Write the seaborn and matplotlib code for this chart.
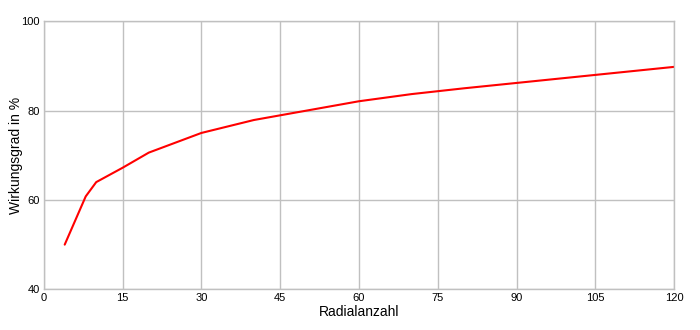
import matplotlib
matplotlib.use("Agg")
import matplotlib.pyplot as plt
import seaborn as sns
import pandas as pd

radialanzahl = [4, 8, 10, 15, 20, 30, 40, 50, 60, 70, 80, 90, 100, 110, 120]
wirkungsgrad = [50, 60.8, 64.0, 67.2, 70.6, 75.0, 77.9, 80.0, 82.1, 83.7, 85.0, 86.2, 87.4, 88.6, 89.8]
x_ticks = [0, 15, 30, 45, 60, 75, 90, 105, 120]
y_ticks = [40, 60, 80, 100]

sns.set_theme(style="whitegrid")
plt.rcParams['font.family'] = ['Liberation Sans', 'DejaVu Sans']

df = pd.DataFrame({"x": radialanzahl, "y": wirkungsgrad})

fig = plt.figure(figsize=(7, 3.3), dpi=100)
ax = fig.add_axes([0.0624, 0.1233, 0.9009, 0.8122])
sns.lineplot(data=df, x="x", y="y", ax=ax, color="#ff0000", linewidth=1.5)

ax.set_xlim(0, 120)
ax.set_ylim(40, 100)
ax.set_xticks(x_ticks)
ax.set_yticks(y_ticks)
ax.tick_params(axis="both", length=0, labelsize=8, colors="black")
ax.tick_params(axis="x", pad=3)
ax.tick_params(axis="y", pad=3)
ax.grid(True, color="#c0c0c0", linewidth=1)
for s in ax.spines.values():
    s.set_color("#c0c0c0")
    s.set_linewidth(1)
ax.set_xlabel("Radialanzahl", fontsize=10, color="black")
ax.xaxis.set_label_coords(0.5, -0.085)
ax.xaxis.label.set_va("center")
ax.set_ylabel("Wirkungsgrad in %", fontsize=10, color="black")
ax.yaxis.set_label_coords(-0.044, 0.5)
ax.yaxis.label.set_va("center")

fig.savefig("out.png", dpi=100, facecolor="white")
